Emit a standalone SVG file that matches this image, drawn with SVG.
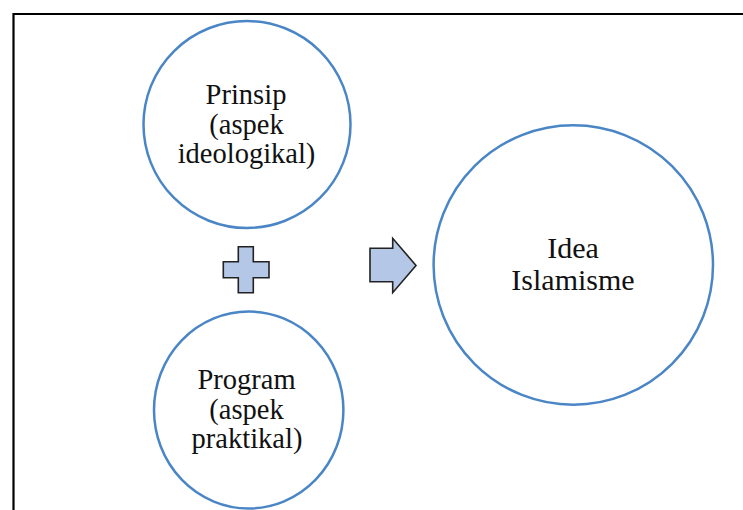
<svg xmlns="http://www.w3.org/2000/svg" width="743" height="510" viewBox="0 0 743 510">
<defs>
<style>
.node circle, .node ellipse { fill: #ffffff; stroke: #4A86C6; stroke-width: 2.5; }
.lbl { font-family: "Liberation Serif", "Times New Roman", serif; fill: #111111; text-anchor: middle; }
.sym { fill: #B4C7E7; stroke: #222222; stroke-width: 1.6; stroke-linejoin: miter; }
</style>
</defs>
<rect x="0" y="0" width="743" height="510" fill="#ffffff"/>
<polyline points="13.5,510 13.5,14 743,14" fill="none" stroke="#000000" stroke-width="2.2"/>
<g id="node-prinsip" class="node">
<circle cx="247" cy="124.5" r="103.5"/>
<text class="lbl" font-size="28.5" x="246" y="103.5">Prinsip</text>
<text class="lbl" font-size="28.5" x="246.5" y="133.5">(aspek</text>
<text class="lbl" font-size="28.5" x="246.5" y="162.5">ideologikal)</text>
</g>
<g id="node-program" class="node">
<ellipse cx="248.7" cy="410" rx="94.7" ry="98.5"/>
<text class="lbl" font-size="28.5" x="246.5" y="388.5">Program</text>
<text class="lbl" font-size="28.5" x="246.5" y="419">(aspek</text>
<text class="lbl" font-size="28.5" x="247" y="447.5">praktikal)</text>
</g>
<g id="node-idea" class="node">
<circle cx="573.3" cy="265" r="139.7"/>
<text class="lbl" font-size="30" x="573" y="258">Idea</text>
<text class="lbl" font-size="30" x="573" y="289.5">Islamisme</text>
</g>
<g id="connectors">
<polygon id="plus" class="sym" points="238.3,246.7 253.3,246.7 253.3,261.7 269,261.7 269,277.7 253.3,277.7 253.3,292.7 238.3,292.7 238.3,277.7 223.3,277.7 223.3,261.7 238.3,261.7"/>
<polygon id="arrow" class="sym" points="370,248.3 392.7,248.3 392.7,238.3 416,265.5 392.7,292.7 392.7,281.7 370,281.7"/>
</g>
</svg>
